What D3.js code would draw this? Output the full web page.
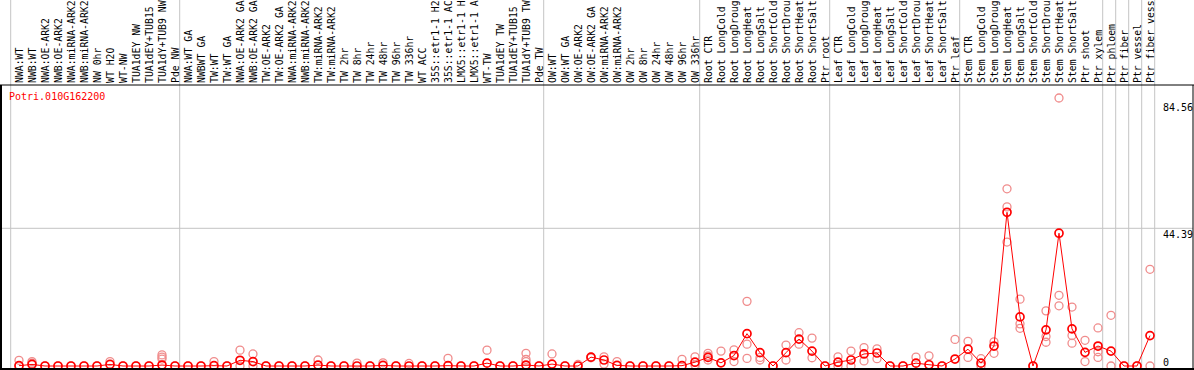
<!DOCTYPE html>
<html>
<head>
<meta charset="utf-8">
<script src="https://cdn.jsdelivr.net/npm/d3@7"></script>
<style>
  html, body { margin: 0; padding: 0; background: #fff; }
  svg { display: block; }
</style>
</head>
<body>
<div id="chart"></div>
<script>
const geneId = "Potri.010G162200";

// samples per experiment block (gray separators between blocks)
const groupSizes = [13, 28, 12, 10, 10, 11, 1, 1, 1, 1];

const sampleLabels = [
  "NWA:WT", "NWB:WT", "NWA:OE-ARK2", "NWB:OE-ARK2", "NWA:miRNA-ARK2", "NWB:miRNA-ARK2",
  "NW 0hr", "WT H2O", "WT-NW", "TUA1dEY NW", "TUA1dEY+TUB15 NW", "TUA1dY+TUB9 NW", "Pde NW",
  "NWA:WT GA", "NWBWT GA", "TW:WT", "TW:WT GA", "NWA:OE-ARK2 GA", "NWB:OE-ARK2 GA",
  "TW:OE-ARK2", "TW:OE-ARK2 GA", "NWA:miRNA-ARK2", "NWB:miRNA-ARK2", "TW:miRNA-ARK2", "TW:miRNA-ARK2",
  "TW 2hr", "TW 8hr", "TW 24hr", "TW 48hr", "TW 96hr", "TW 336hr", "WT ACC",
  "35S::etr1-1 H2O", "35S::etr1-1 ACC", "LMX5::etr1-1 H2O", "LMX5::etr1-1 ACC",
  "WT-TW", "TUA1dEY TW", "TUA1dEY+TUB15 TW", "TUA1dY+TUB9 TW", "Pde TW",
  "OW:WT", "OW:WT GA", "OW:OE-ARK2", "OW:OE-ARK2 GA", "OW:miRNA-ARK2", "OW:miRNA-ARK2",
  "OW 2hr", "OW 8hr", "OW 24hr", "OW 48hr", "OW 96hr", "OW 336hr",
  "Root CTR", "Root LongCold", "Root LongDrought", "Root LongHeat", "Root LongSalt",
  "Root ShortCold", "Root ShortDrought", "Root ShortHeat", "Root ShortSalt", "Ptr root",
  "Leaf CTR", "Leaf LongCold", "Leaf LongDrought", "Leaf LongHeat", "Leaf LongSalt",
  "Leaf ShortCold", "Leaf ShortDrought", "Leaf ShortHeat", "Leaf ShortSalt", "Ptr leaf",
  "Stem CTR", "Stem LongCold", "Stem LongDrought", "Stem LongHeat", "Stem LongSalt",
  "Stem ShortCold", "Stem ShortDrought", "Stem ShortHeat", "Stem ShortSalt", "Ptr shoot", "Ptr xylem",
  "Ptr phloem", "Ptr fiber", "Ptr vessel", "Ptr fiber vessel"
];

const meanValues = [
  0.1, 0.5, 0, 0, 0, 0, 0, 0.5, 0, 0, 0, 0.3, 0,
  0, 0, 0.1, 0, 1.8, 1.4, 0, 0, 0, 0, 0.3, 0, 0, 0, 0, 0.2, 0, 0, 0, 0, 0.1, 0, 0, 0.9, 0, 0, 0.3, 0,
  0.6, 0, 0, 2.8, 1.9, 0.2, 0, 0, 0, 0, 0.1, 1.2,
  2.7, 1.0, 3.3, 10.2, 4.2, 0, 4.2, 8.5, 4.7, 0,
  1.2, 1.9, 3.8, 4.1, 0, 0, 0.9, 0.4, 0, 2.2,
  5.3, 0.9, 6.3, 48.5, 15.5, 0, 11.4, 41.9, 11.7, 4.3, 6.3,
  4.7, 0, 0, 9.6
];

const replicateValues = [
  [1.8, 0.1], [1.4, 0.9], [0], [0], [0], [0], [0], [1.4], [0], [0], [0], [3.5, 2.8, 2.2], [0],
  [0], [0], [1.4], [0], [5.0, 0], [3.8, 0], [0], [0], [0], [0], [1.9], [0], [0], [0.9], [0],
  [1.0], [0], [0.8], [0], [0], [2.4], [0], [0], [5.0], [0], [0], [4.0, 2.1, 1.4], [0],
  [3.8], [0], [0.5], [2.8, 2.6], [2.9, 0.6], [1.4], [0], [0], [0], [0], [2.1], [2.9, 0.3],
  [4.0, 3.2, 1.9], [4.7], [5.1, 1.4], [20.4, 6.9, 2.4], [2.7, 1.9], [0], [6.6, 1.9],
  [10.5, 6.9], [8.8, 2.6], [0],
  [2.9, 0], [4.7, 0], [5.8, 1.6], [5.4, 2.3], [0], [0], [2.8], [3.2], [0], [8.4],
  [7.8, 2.7], [2.3, 0], [7.6, 4.0], [55.9, 50.2, 39.1], [21.1, 13.3, 11.9], [0],
  [17.4, 9.3, 7.5], [84.56, 22.3, 19.0], [18.6, 9.6, 7.2], [8.1, 1.4], [12.0, 4.5, 2.7],
  [16.0, 0], [0], [0], [30.5, 0]
];

const maxValue = 84.56;
const axisLabels = [maxValue, maxValue * 1.05 / 2, 0];
const labelMaxChars = 14;   // the original cuts sample names to 14 characters

const width = 1194;
const height = 370;
const plot = { left: 1, right: 1193, top: 85, bottom: 369 };
const colStart = 10.7;
const colWidth = 13;
const font = "'DejaVu Sans Mono', monospace";

const svg = d3.select("#chart")
  .append("svg")
  .attr("width", width)
  .attr("height", height);

const n = sampleLabels.length;
const xCol = d3.scaleLinear().domain([0, n]).range([colStart, colStart + colWidth * n]);
const xPoint = i => xCol(i) + 8.3;
const yScale = d3.scaleLinear().domain([0, maxValue * 1.05]).range([plot.bottom, 87.6]);

// block separators
const sepIdx = [0, ...d3.cumsum(groupSizes)];
svg.append("g")
  .selectAll("line")
  .data(sepIdx)
  .enter()
  .append("line")
  .attr("x1", d => xCol(d)).attr("x2", d => xCol(d))
  .attr("y1", 0).attr("y2", plot.bottom)
  .attr("stroke", "#c4c4c4")
  .attr("stroke-width", 1);

// mid grid line
svg.append("line")
  .attr("x1", plot.left).attr("x2", plot.right)
  .attr("y1", yScale(axisLabels[1])).attr("y2", yScale(axisLabels[1]))
  .attr("stroke", "#c4c4c4")
  .attr("stroke-width", 1);

// sample labels, rotated
svg.append("g")
  .selectAll("text")
  .data(sampleLabels)
  .enter()
  .append("text")
  .attr("transform", (d, i) => `translate(${xPoint(i) + 4},${plot.top - 2}) rotate(-90)`)
  .style("font-family", font)
  .style("font-size", "9.8px")
  .attr("fill", "#000")
  .text(d => d.slice(0, labelMaxChars));

// frame
svg.append("line").attr("x1", 0).attr("x2", width).attr("y1", plot.top).attr("y2", plot.top)
  .attr("stroke", "#000").attr("stroke-width", 1);
svg.append("line").attr("x1", plot.right).attr("x2", plot.right).attr("y1", plot.top).attr("y2", plot.bottom)
  .attr("stroke", "#000").attr("stroke-width", 1);
svg.append("line").attr("x1", plot.left).attr("x2", plot.left).attr("y1", plot.top).attr("y2", height)
  .attr("stroke", "#000").attr("stroke-width", 2);

svg.append("text")
  .attr("x", 9)
  .attr("y", 100)
  .style("font-family", font)
  .style("font-size", "10px")
  .attr("fill", "#ff0000")
  .text(geneId);

svg.selectAll(".ylab")
  .data(axisLabels)
  .enter()
  .append("text")
  .attr("class", "ylab")
  .attr("x", 1163)
  .attr("y", d => Math.min(yScale(d) + 9.7, 366))
  .style("font-family", font)
  .style("font-size", "10px")
  .attr("fill", "#000")
  .text(d => d === 0 ? "0" : d.toFixed(2));

// data marks sit a few px above their value, as in the original image
const marks = svg.append("g").attr("transform", "translate(0,-3)");

const reps = [];
replicateValues.forEach((vals, i) => vals.forEach(v => reps.push({ i, v })));

marks.selectAll(".rep")
  .data(reps)
  .enter()
  .append("circle")
  .attr("class", "rep")
  .attr("cx", d => xPoint(d.i))
  .attr("cy", d => yScale(d.v))
  .attr("r", 4)
  .attr("fill", "none")
  .attr("stroke", "#f08c8c")
  .attr("stroke-width", 1.3);

const line = d3.line()
  .x((d, i) => xPoint(i))
  .y(d => yScale(d));

marks.append("path")
  .datum(meanValues)
  .attr("d", line)
  .attr("fill", "none")
  .attr("stroke", "#ff0000")
  .attr("stroke-width", 1);

marks.selectAll(".mean")
  .data(meanValues)
  .enter()
  .append("circle")
  .attr("class", "mean")
  .attr("cx", (d, i) => xPoint(i))
  .attr("cy", d => yScale(d))
  .attr("r", 4)
  .attr("fill", "none")
  .attr("stroke", "#ff0000")
  .attr("stroke-width", 1.7);

// bottom axis line drawn last so it covers zero-value circles
svg.append("line").attr("x1", 0).attr("x2", width).attr("y1", plot.bottom).attr("y2", plot.bottom)
  .attr("stroke", "#000").attr("stroke-width", 2);
</script>
</body>
</html>
